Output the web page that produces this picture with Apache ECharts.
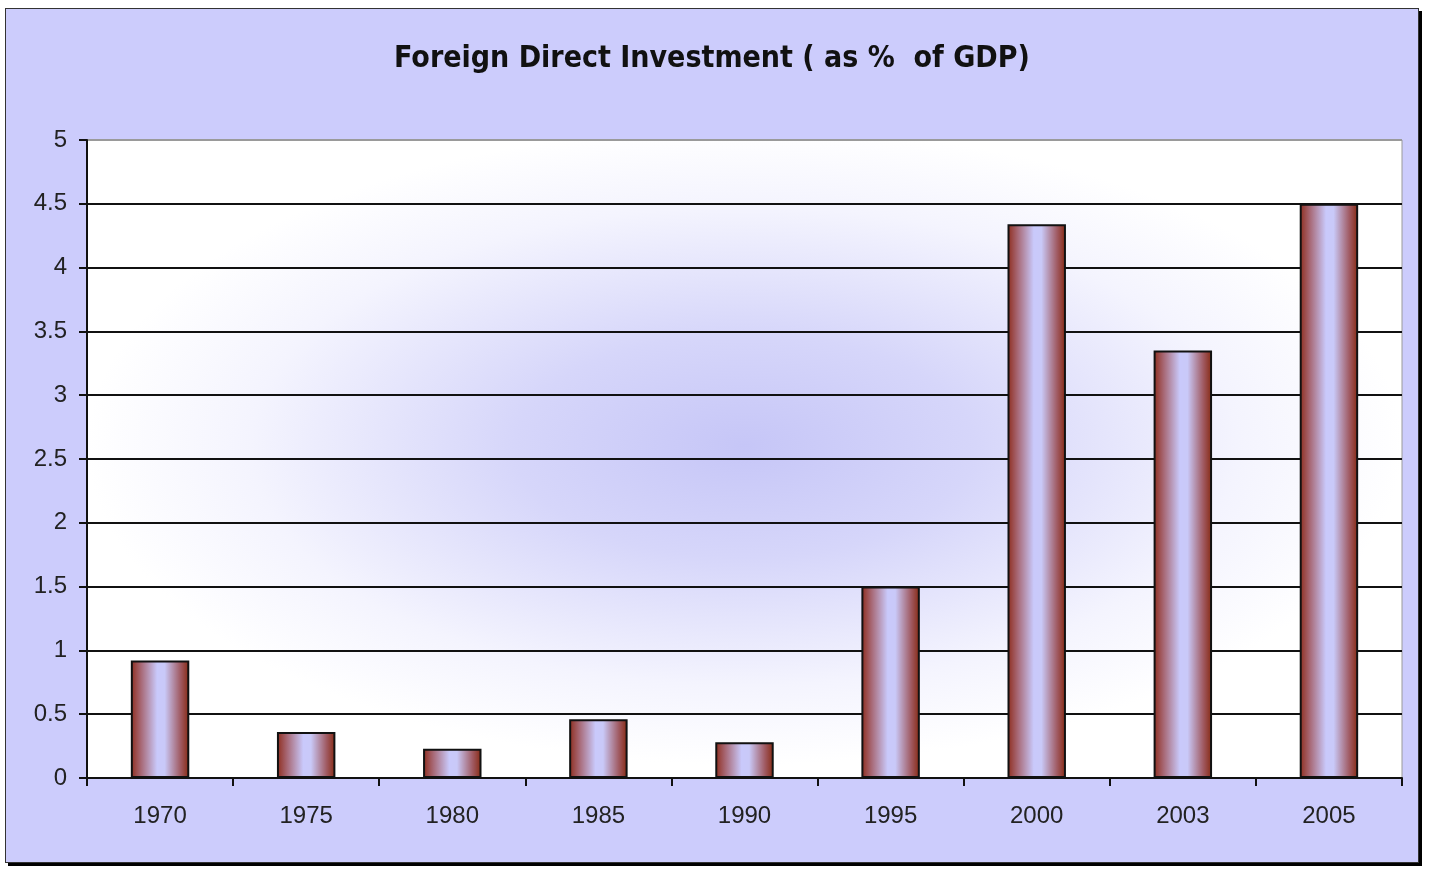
<!DOCTYPE html>
<html>
<head>
<meta charset="utf-8">
<title>Foreign Direct Investment</title>
<script src="https://cdn.jsdelivr.net/npm/echarts@6/dist/echarts.min.js"></script>
<style>
    html, body { margin: 0; padding: 0; background: #fff; }
    #frame {
        position: absolute; left: 5px; top: 8px;
        width: 1412px; height: 853px;
        border: 1px solid #333;
        box-shadow: 3px 3px 0 #000;
        background: #ccccfc;
    }
    #chart { width: 1412px; height: 853px; }
</style>
</head>
<body>
<div id="frame"><div id="chart"></div></div>
<script>
// data
const years = ['1970', '1975', '1980', '1985', '1990', '1995', '2000', '2003', '2005'];
const fdiPct = [0.92, 0.36, 0.23, 0.46, 0.28, 1.5, 4.34, 3.35, 4.5];
const yTicks = [0, 0.5, 1, 1.5, 2, 2.5, 3, 3.5, 4, 4.5, 5];

const gridBox = { left: 81, top: 131, width: 1315, height: 638 };

const chart = echarts.init(document.getElementById('chart'));

// bars: brown edges, lavender in the middle (cylinder look)
const barFill = new echarts.graphic.LinearGradient(0, 0, 1, 0, [
    { offset: 0, color: '#8e2c1c' },
    { offset: 0.18, color: '#a86a78' },
    { offset: 0.45, color: '#c9c9fb' },
    { offset: 0.58, color: '#c9c9f8' },
    { offset: 0.85, color: '#a05a62' },
    { offset: 1, color: '#862810' }
]);

// grid lines black, the top one is just the grey plot border
const splitColors = yTicks.map((v, i) => i === yTicks.length - 1 ? '#9a9a9a' : '#111');

chart.setOption({
    backgroundColor: 'transparent',
    animation: false,
    title: {
        text: 'Foreign Direct Investment ( as %  of GDP)',
        left: 'center',
        top: 30,
        textStyle: {
            fontFamily: '"DejaVu Sans Condensed", "Liberation Sans Narrow", sans-serif',
            fontSize: 30,
            fontWeight: 'bold',
            color: '#111'
        }
    },
    graphic: [{
        // elliptical glow behind the plot
        type: 'rect',
        z: -10,
        silent: true,
        x: gridBox.left,
        y: gridBox.top,
        scaleY: gridBox.height / gridBox.width,
        shape: { x: 0, y: 0, width: gridBox.width, height: gridBox.width },
        style: {
            fill: new echarts.graphic.RadialGradient(0.5, 0.48, 0.5, [
                { offset: 0, color: '#c6c6f7' },
                { offset: 0.35, color: '#d6d6fa' },
                { offset: 0.75, color: '#f4f4fe' },
                { offset: 1, color: '#ffffff' }
            ])
        }
    }],
    grid: {
        left: gridBox.left,
        top: gridBox.top,
        width: gridBox.width,
        height: gridBox.height,
        show: true,
        backgroundColor: 'transparent',
        borderColor: '#9a9a9a',
        borderWidth: 1
    },
    xAxis: {
        type: 'category',
        data: years,
        axisLine: { lineStyle: { color: '#111', width: 2 } },
        axisTick: { show: true, length: 8, lineStyle: { color: '#111', width: 2 } },
        axisLabel: {
            margin: 26,
            fontFamily: 'Arial, "Liberation Sans", sans-serif',
            fontSize: 24,
            color: '#222'
        }
    },
    yAxis: {
        type: 'value',
        min: 0,
        max: 5,
        interval: 0.5,
        axisLine: { show: true, lineStyle: { color: '#111', width: 2 } },
        axisTick: { show: true, length: 8, lineStyle: { color: '#111', width: 2 } },
        axisLabel: {
            margin: 20,
            fontFamily: 'Arial, "Liberation Sans", sans-serif',
            fontSize: 24,
            color: '#222'
        },
        splitLine: { show: true, lineStyle: { color: splitColors, width: 2 } }
    },
    series: [{
        type: 'bar',
        data: fdiPct,
        barWidth: '40%',
        itemStyle: {
            color: barFill,
            borderColor: '#111',
            borderWidth: 2
        }
    }]
});
</script>
</body>
</html>
